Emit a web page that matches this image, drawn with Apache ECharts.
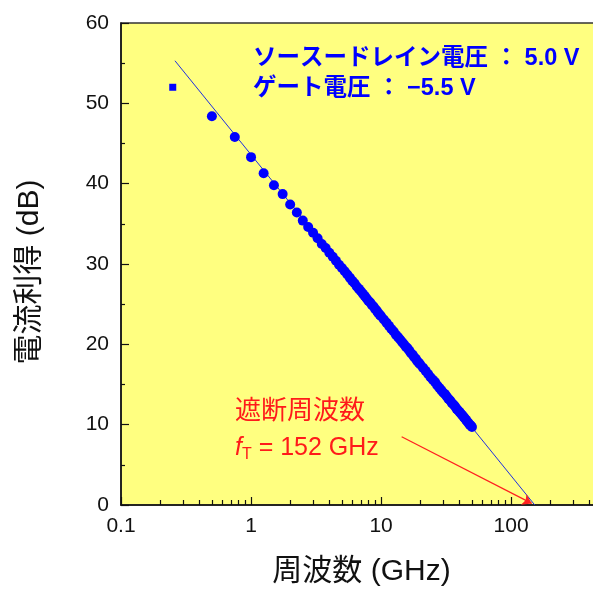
<!DOCTYPE html>
<html><head><meta charset="utf-8">
<script src="https://cdn.jsdelivr.net/npm/echarts@6/dist/echarts.min.js"></script>
<style>html,body{margin:0;padding:0;background:#fff}#c{width:593px;height:592px}</style>
</head><body><div id="c"></div>
<script>
// measured current gain vs frequency
const freqGHz = [
  0.25, 0.5, 0.75, 1.0, 1.25, 1.5, 1.75, 2.0, 2.25, 2.5,
  2.75, 3.0, 3.25, 3.5, 3.75, 4.0, 4.25, 4.5, 4.75, 5.0,
  5.25, 5.5, 5.75, 6.0, 6.25, 6.5, 6.75, 7.0, 7.25, 7.5,
  7.75, 8.0, 8.25, 8.5, 8.75, 9.0, 9.25, 9.5, 9.75, 10,
  10.5, 11, 11.5, 12, 12.5, 13, 13.5, 14, 14.5, 15,
  15.5, 16, 16.5, 17, 17.5, 18, 18.5, 19, 19.5, 20,
  21, 22, 23, 24, 25, 26, 27, 28, 29, 30,
  31, 32, 33, 34, 35, 36, 37, 38, 39, 40,
  41, 42, 43, 44, 45, 46, 47, 48, 49, 50
];
const gainDB = [
  52.0, 48.4, 45.8, 43.3, 41.3, 39.8, 38.7, 37.4, 36.4, 35.4,
  34.6, 33.9, 33.2, 32.5, 32.0, 31.4, 30.9, 30.4, 29.9, 29.5,
  29.1, 28.7, 28.3, 27.9, 27.6, 27.2, 26.9, 26.6, 26.3, 26.0,
  25.7, 25.4, 25.2, 24.9, 24.7, 24.4, 24.2, 23.9, 23.7, 23.5,
  23.1, 22.7, 22.3, 21.9, 21.6, 21.2, 20.9, 20.6, 20.3, 20.0,
  19.7, 19.5, 19.2, 18.9, 18.7, 18.4, 18.2, 17.9, 17.7, 17.5,
  17.1, 16.7, 16.3, 15.9, 15.6, 15.3, 14.9, 14.6, 14.3, 14.0,
  13.8, 13.5, 13.2, 13.0, 12.7, 12.5, 12.3, 12.0, 11.8, 11.6,
  11.4, 11.2, 11.0, 10.8, 10.6, 10.4, 10.2, 10.0, 9.9, 9.7
];
// -20 dB/decade fit line
const fitFreqGHz = [0.26, 152];
const fitGainDB = [55.3, 0];
// arrow pointing at fT
const arrowFrom = [14.4, 8.5];
const arrowTo = [144, 0.2];
// axes
const xTickLabels = [0.1, 1, 10, 100];
const xMinorTicks = [0.2,0.3,0.4,0.5,0.6,0.7,0.8,0.9,2,3,4,5,6,7,8,9,20,30,40,50,60,70,80,90,200,300,400];
const yMin = 0, yMax = 60, yStep = 10;

const FONT = "'Liberation Sans', 'Noto Sans CJK JP', sans-serif";
const chart = echarts.init(document.getElementById('c'));
const pts = freqGHz.map((f, i) => [f, gainDB[i]]);
const fit = fitFreqGHz.map((f, i) => [f, fitGainDB[i]]);

chart.setOption({
  animation: false,
  backgroundColor: '#ffffff',
  grid: { left: 121, top: 23, width: 481, height: 482, show: true,
          outerBoundsMode: 'none', containLabel: false,
          backgroundColor: '#ffff80', borderColor: '#333', borderWidth: 1.5 },
  xAxis: [{
    type: 'log', logBase: 10, min: 0.1, max: 500,
    position: 'bottom',
    name: '周波数 (GHz)', nameLocation: 'middle', nameGap: 52,
    nameTextStyle: { fontFamily: FONT, fontSize: 30, color: '#111' },
    axisLine: { show: true, onZero: false, lineStyle: { color: '#111', width: 1.5 } },
    axisTick: { show: true, inside: true, length: 8, customValues: xTickLabels,
                lineStyle: { color: '#111', width: 1.2 } },
    axisLabel: { customValues: xTickLabels, fontFamily: FONT, fontSize: 21, color: '#111', margin: 11 },
    splitLine: { show: false }, minorTick: { show: false }
  }, {
    type: 'log', logBase: 10, min: 0.1, max: 500, gridIndex: 0,
    position: 'bottom',
    axisLine: { show: false, onZero: false },
    axisTick: { show: true, inside: true, length: 5, customValues: xMinorTicks,
                lineStyle: { color: '#111', width: 1.2 } },
    axisLabel: { show: false },
    splitLine: { show: false }
  }],
  yAxis: {
    type: 'value', min: yMin, max: yMax, interval: yStep,
    name: '電流利得 (dB)', nameLocation: 'middle', nameGap: 76,
    nameTextStyle: { fontFamily: FONT, fontSize: 30, color: '#111', padding: [0, 16, 0, 0] },
    axisLine: { show: true, lineStyle: { color: '#111', width: 1.5 } },
    axisTick: { show: true, inside: true, length: 8, lineStyle: { color: '#111', width: 1.2 } },
    minorTick: { show: true, splitNumber: 2, length: 4, lineStyle: { color: '#111', width: 1.2 } },
    axisLabel: { fontFamily: FONT, fontSize: 21, color: '#111', margin: 12 },
    splitLine: { show: false }, minorSplitLine: { show: false }
  },
  series: [{
    type: 'line', data: fit, xAxisIndex: 0, symbol: 'none',
    lineStyle: { color: '#1f2fe0', width: 1 }, silent: true, z: 3,
    markLine: {
      silent: true, symbol: ['none', 'arrow'], symbolSize: 9,
      label: { show: false },
      lineStyle: { color: '#ff2020', width: 1.2, type: 'solid' },
      data: [[{ coord: arrowFrom }, { coord: arrowTo }]]
    }
  }, {
    type: 'scatter', data: pts, xAxisIndex: 0,
    symbol: (v, p) => p.dataIndex === 0 ? 'rect' : 'circle',
    symbolSize: (v, p) => p.dataIndex === 0 ? 7 : 10,
    itemStyle: { color: '#0000ff', opacity: 1 }, z: 4
  }],
  graphic: [
    { type: 'text', x: 253, y: 59, z: 10,
      style: { text: 'ソースードレイン電圧 ： 5.0 V', fill: '#0000ff', fontFamily: FONT,
               fontSize: 23.5, fontWeight: 'bold', verticalAlign: 'middle' } },
    { type: 'text', x: 253, y: 89, z: 10,
      style: { text: 'ゲート電圧 ： −5.5 V', fill: '#0000ff', fontFamily: FONT,
               fontSize: 23.5, fontWeight: 'bold', verticalAlign: 'middle' } },
    { type: 'text', x: 235, y: 412, z: 10,
      style: { text: '遮断周波数', fill: '#ff1a1a', fontFamily: FONT,
               fontSize: 26, verticalAlign: 'middle' } },
    { type: 'text', x: 235, y: 448, z: 10,
      style: { text: '{f|f}{s|T}{n| = 152 GHz}', fill: '#ff1a1a', fontFamily: FONT,
               fontSize: 25, verticalAlign: 'middle',
               rich: {
                 f: { fontStyle: 'italic', fontSize: 25, lineHeight: 30, fill: '#ff1a1a', fontFamily: FONT, verticalAlign: 'middle' },
                 s: { fontSize: 16, lineHeight: 16, verticalAlign: 'bottom', fill: '#ff1a1a', fontFamily: FONT },
                 n: { fontSize: 25, lineHeight: 30, fill: '#ff1a1a', fontFamily: FONT, verticalAlign: 'middle' }
               } } }
  ]
});
</script></body></html>
